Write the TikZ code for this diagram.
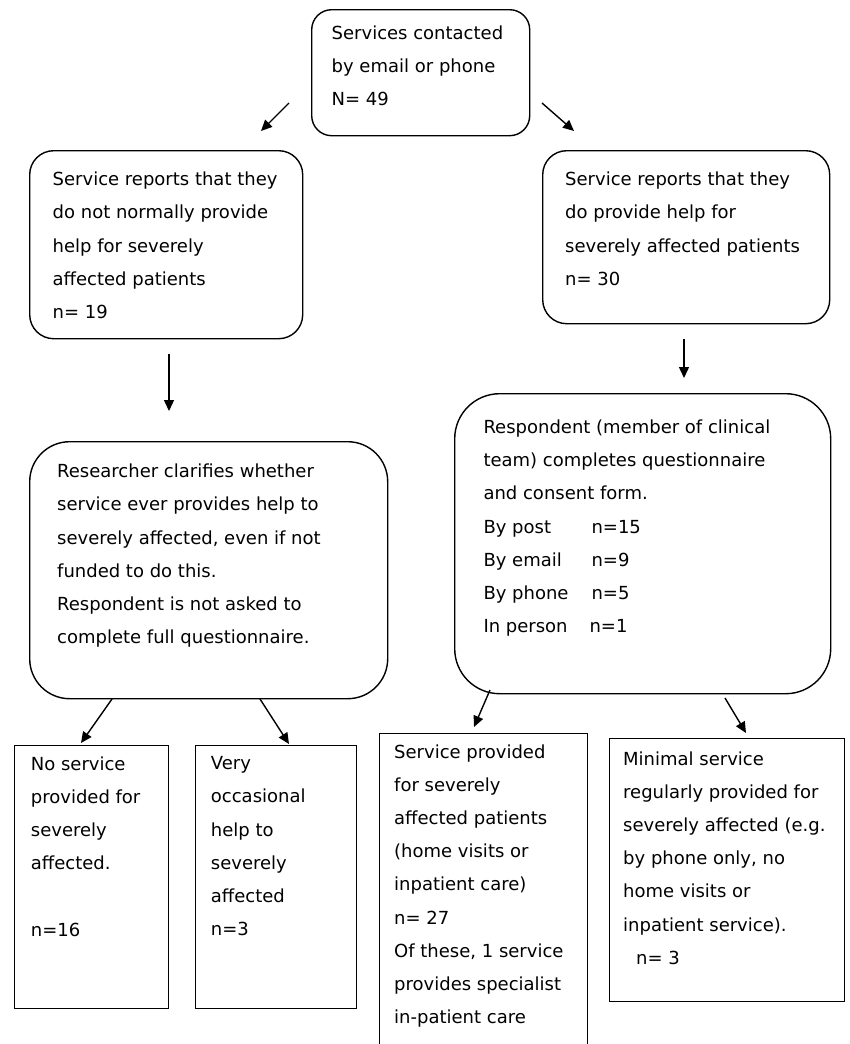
\documentclass[tikz,border=0pt]{standalone}
\usepackage{fontspec}
\setmainfont{DejaVu Sans}
\usetikzlibrary{arrows.meta,positioning}

\begin{document}
\begin{tikzpicture}[x=1pt,y=-1pt,
		box/.style={draw, line width=1.4pt, rounded corners=#1, anchor=north west, inner sep=0pt},
		box/.default=22pt,
		sqbox/.style={draw, line width=1.4pt, anchor=north west, inner sep=0pt},
		txt/.style={anchor=north west, align=left, inner sep=0pt, font=\fontsize{18}{33.2}\selectfont},
		arr/.style={line width=1.4pt, -{Triangle[length=11pt,width=10pt]}}]

	\useasboundingbox (0,0) rectangle (849,1044);
	\clip (0,0) rectangle (849,1044);

	% boxes
	\node[box=20pt, minimum width=218pt, minimum height=126pt] (contact) at (311,9) {};
	\node[box=24pt, minimum width=273pt, minimum height=188pt] (nohelp) at (29,150) {};
	\node[box=24pt, minimum width=287pt, minimum height=173pt] (help) at (542,150) {};
	\node[box=40pt, minimum width=358pt, minimum height=257pt] (clarify) at (29,441) {};
	\node[box=45pt, minimum width=376pt, minimum height=300pt] (respond) at (454,393) {};
	\node[sqbox, minimum width=154pt, minimum height=263pt] (none) at (14,745) {};
	\node[sqbox, minimum width=161pt, minimum height=263pt] (rare) at (195,745) {};
	\node[sqbox, minimum width=208pt, minimum height=340pt] (full) at (379,733) {};
	\node[sqbox, minimum width=235pt, minimum height=263pt] (minimal) at (609,738) {};

	% texts (top of first line = baseline - 13.7)
	\node[txt] (contactT) at (331.5,25.6) {Services contacted\\by email or phone\\N= 49};
	\node[txt] (nohelpT) at (52.5,171.8) {Service reports that they\\do not normally provide\\help for severely\\affected patients\\n= 19};
	\node[txt] (helpT) at (565,171.8) {Service reports that they\\do provide help for\\severely affected patients\\n= 30};
	\node[txt] (clarifyT) at (57,463.8) {Researcher clarifies whether\\service ever provides help to\\severely affected, even if not\\funded to do this.\\Respondent is not asked to\\complete full questionnaire.};
	\node[txt] (respondT) at (483.3,419.6) {Respondent (member of clinical\\team) completes questionnaire\\and consent form.\\
		\makebox[108pt][l]{By post}n=15\\
		\makebox[108pt][l]{By email}n=9\\
		\makebox[108pt][l]{By phone}n=5\\
		\makebox[106pt][l]{In person}n=1};
	\node[txt] (noneT) at (30.7,756.3) {No service\\provided for\\severely\\affected.\\[33.2pt]n=16};
	\node[txt] (rareT) at (210.7,756.3) {Very\\occasional\\help to\\severely\\affected\\n=3};
	\node[txt] (fullT) at (394,744.3) {Service provided\\for severely\\affected patients\\(home visits or\\inpatient care)\\n= 27\\Of these, 1 service\\provides specialist\\in-patient care};
	\node[txt] (minimalT) at (623,751.3) {Minimal service\\regularly provided for\\severely affected (e.g.\\by phone only, no\\home visits or\\inpatient service).\\\hspace*{13pt}n= 3};

	% arrow ends
	\coordinate (c1) at (289,103);
	\coordinate (c2) at (261,131);
	\coordinate (c3) at (542,103);
	\coordinate (c4) at (574,131);
	\coordinate (c5) at (169,354);
	\coordinate (c6) at (169,411);
	\coordinate (c7) at (684,339);
	\coordinate (c8) at (684,378);
	\coordinate (c9) at (112,699);
	\coordinate (c10) at (81,743);
	\coordinate (c11) at (260,699);
	\coordinate (c12) at (289,744);
	\coordinate (c13) at (490,690);
	\coordinate (c14) at (474,727);
	\coordinate (c15) at (725,698);
	\coordinate (c16) at (746,733);

	\draw[arr] (c1) -- (c2);
	\draw[arr] (c3) -- (c4);
	\draw[arr] (c5) -- (c6);
	\draw[arr] (c7) -- (c8);
	\draw[arr] (c9) -- (c10);
	\draw[arr] (c11) -- (c12);
	\draw[arr] (c13) -- (c14);
	\draw[arr] (c15) -- (c16);
\end{tikzpicture}
\end{document}
